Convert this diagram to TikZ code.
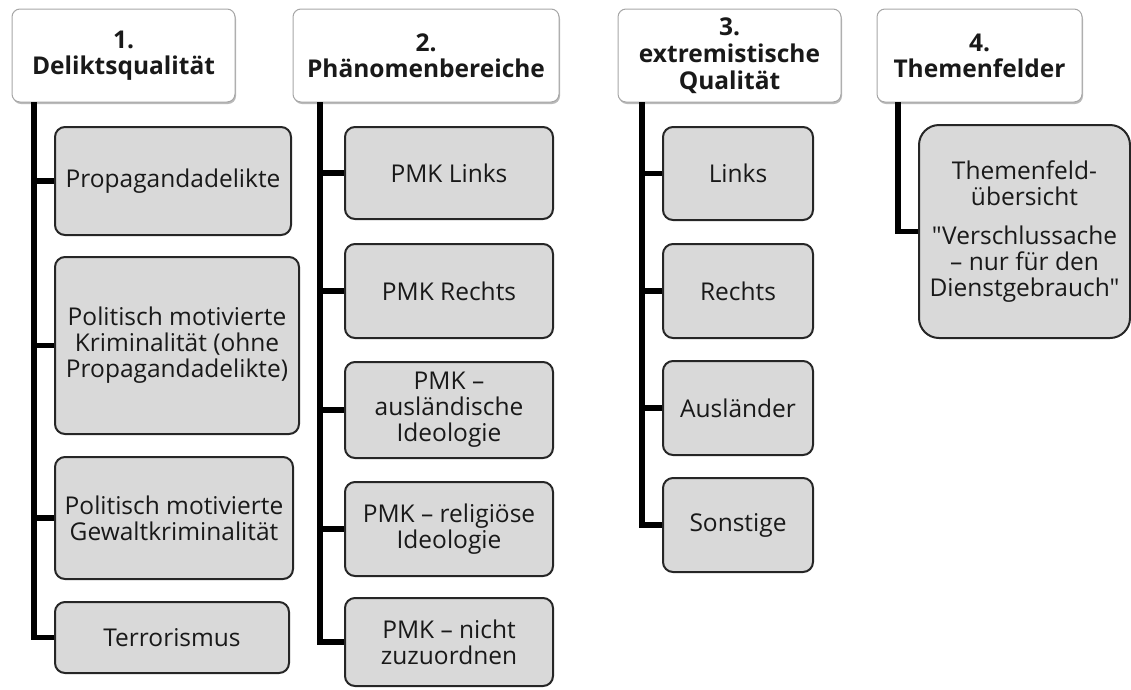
\documentclass[tikz,border=0pt]{standalone}
\usepackage{fontspec}
\setmainfont{Open Sans}[Ligatures=TeXOff]
\usetikzlibrary{shadows}

\begin{document}
\begin{tikzpicture}[x=1pt,y=-1pt,
  head/.style={draw=black!35, fill=white, rounded corners=8pt, line width=1pt,
    font=\bfseries\fontsize{24.5}{26}\selectfont, align=center, text=black!90,
    inner sep=0pt,
    drop shadow={shadow xshift=1pt,shadow yshift=-2pt,fill=black!45,opacity=.6}},
  leaf/.style={draw=black!85, fill=black!15, rounded corners=10pt,
    line width=2pt, font=\fontsize{24.5}{26}\selectfont, align=center,
    text=black!90, inner sep=0pt},
  spine/.style={line width=5.5pt}]

  \useasboundingbox (0,0) rectangle (1131,689);

  %% headers
  \node[head, minimum width=223pt, minimum height=93pt] (h1) at (123.5,55.5)
    {1.\\Deliktsqualität};
  \node[head, minimum width=266pt, minimum height=93pt] (h2) at (426,55.5)
    {2.\\Phänomenbereiche};
  \node[head, minimum width=223pt, minimum height=93pt] (h3) at (729.5,55.5)
    {3.\\[1pt]extremistische\\[1pt]Qualität};
  \node[head, minimum width=205pt, minimum height=93pt] (h4) at (979.5,55.5)
    {4.\\Themenfelder};

  %% column 1
  \node[leaf, minimum width=236pt, minimum height=108pt] (d1) at (173,181)
    {Propagandadelikte};
  \node[leaf, minimum width=244pt, minimum height=177pt] (d2) at (177,345.5)
    {Politisch motivierte\\Kriminalität (ohne\\Propagandadelikte)};
  \node[leaf, minimum width=238pt, minimum height=122pt] (d3) at (174,518)
    {Politisch motivierte\\Gewaltkriminalität};
  \node[leaf, minimum width=234pt, minimum height=71pt] (d4) at (172,637.5)
    {Terrorismus};

  %% column 2
  \node[leaf, minimum width=208pt, minimum height=92pt] (p1) at (449,173)
    {PMK Links};
  \node[leaf, minimum width=208pt, minimum height=94pt] (p2) at (449,291)
    {PMK Rechts};
  \node[leaf, minimum width=208pt, minimum height=96pt] (p3) at (449,410)
    {PMK –\\ausländische\\Ideologie};
  \node[leaf, minimum width=208pt, minimum height=94pt] (p4) at (449,529)
    {PMK – religiöse\\Ideologie};
  \node[leaf, minimum width=208pt, minimum height=88pt] (p5) at (449,642)
    {PMK – nicht\\zuzuordnen};

  %% column 3
  \node[leaf, minimum width=150pt, minimum height=93pt] (e1) at (738,173.5)
    {Links};
  \node[leaf, minimum width=150pt, minimum height=94pt] (e2) at (738,291)
    {Rechts};
  \node[leaf, minimum width=150pt, minimum height=94pt] (e3) at (738,408)
    {Ausländer};
  \node[leaf, minimum width=150pt, minimum height=94pt] (e4) at (738,525)
    {Sonstige};

  %% column 4
  \node[leaf, rounded corners=20pt, minimum width=211pt, minimum height=213pt]
    (t1) at (1024.5,231.5)
    {Themenfeld-\\übersicht\\[13pt]"Verschlussache\\– nur für den\\Dienstgebrauch"};

  %% spines
  \coordinate (s1) at (34,102);
  \coordinate (s2) at (320,102);
  \coordinate (s3) at (642,102);
  \coordinate (s4) at (898,102);

  \draw[spine] (s1) |- (d1.west);
  \draw[spine] (s1) |- (d2.west);
  \draw[spine] (s1) |- (d3.west);
  \draw[spine] (s1) |- (d4.west);

  \draw[spine] (s2) |- (p1.west);
  \draw[spine] (s2) |- (p2.west);
  \draw[spine] (s2) |- (p3.west);
  \draw[spine] (s2) |- (p4.west);
  \draw[spine] (s2) |- (p5.west);

  \draw[spine] (s3) |- (e1.west);
  \draw[spine] (s3) |- (e2.west);
  \draw[spine] (s3) |- (e3.west);
  \draw[spine] (s3) |- (e4.west);

  \draw[spine] (s4) |- (t1.west);

\end{tikzpicture}
\end{document}
